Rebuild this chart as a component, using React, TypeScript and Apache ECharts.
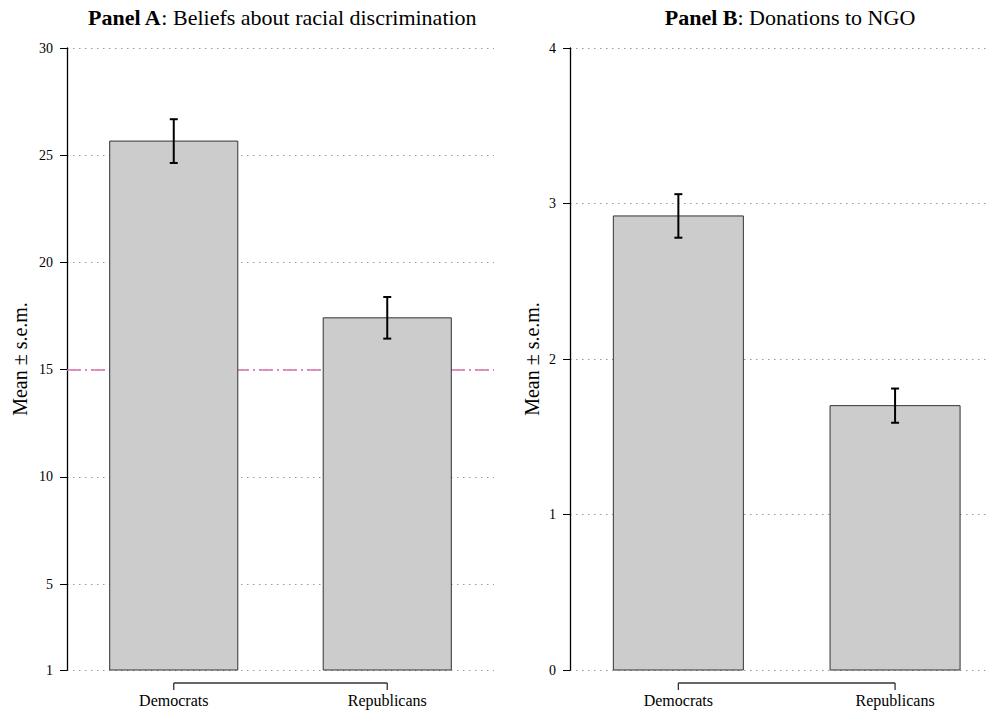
import React, { useEffect, useRef } from 'react';
import * as echarts from 'echarts';

const categories = ['Democrats', 'Republicans'];
const beliefsMean = [25.66, 17.42];
const beliefsSem = [1.02, 0.97];
const donationsMean = [2.92, 1.7];
const donationsSem = [0.14, 0.11];
const beliefsTicks = [1, 5, 10, 15, 20, 25, 30];
const donationsTicks = [0, 1, 2, 3, 4];
const beliefsReference = 15;
const panelBold = ['Panel A', 'Panel B'];
const panelRest = [': Beliefs about racial discrimination', ': Donations to NGO'];
const yAxisName = 'Mean \u00b1 s.e.m.';

const FONT = '"Liberation Serif", "Times New Roman", serif';

function barRender(yMin: number) {
  return (params: any, api: any) => {
    const i = api.value(0);
    const m = api.value(1);
    const s = api.value(2);
    const base = api.coord([i, yMin]);
    const top = api.coord([i, m]);
    const bw = api.size([0.6, 0])[0];
    const hi = api.coord([i, m + s]);
    const lo = api.coord([i, m - s]);
    const cap = 4;
    return {
      type: 'group',
      children: [
        {
          type: 'rect',
          shape: { x: base[0] - bw / 2, y: top[1], width: bw, height: base[1] - top[1] },
          style: { fill: '#cccccc', stroke: '#333333', lineWidth: 1 },
        },
        {
          type: 'line',
          shape: { x1: hi[0], y1: hi[1], x2: lo[0], y2: lo[1] },
          style: { stroke: '#000', lineWidth: 2 },
        },
        {
          type: 'line',
          shape: { x1: hi[0] - cap, y1: hi[1], x2: hi[0] + cap, y2: hi[1] },
          style: { stroke: '#000', lineWidth: 2 },
        },
        {
          type: 'line',
          shape: { x1: lo[0] - cap, y1: lo[1], x2: lo[0] + cap, y2: lo[1] },
          style: { stroke: '#000', lineWidth: 2 },
        },
      ],
    };
  };
}

function bracketRender(yMin: number) {
  return (params: any, api: any) => {
    const i = api.value(0);
    const p = api.coord([i, yMin]);
    const y = p[1] + 13;
    const children: any[] = [
      {
        type: 'line',
        shape: { x1: p[0], y1: y, x2: p[0], y2: y + 7 },
        style: { stroke: '#333', lineWidth: 1.3 },
      },
    ];
    if (i < categories.length - 1) {
      const q = api.coord([i + 1, yMin]);
      children.push({
        type: 'line',
        shape: { x1: p[0], y1: y, x2: q[0], y2: y },
        style: { stroke: '#333', lineWidth: 1.3 },
      });
    }
    return { type: 'group', children };
  };
}

function makeYAxis(gridIndex: number, ticks: number[], nameGap: number) {
  return {
    type: 'value',
    gridIndex,
    min: ticks[0],
    max: ticks[ticks.length - 1],
    name: yAxisName,
    nameLocation: 'middle',
    nameGap,
    nameTextStyle: { fontFamily: FONT, fontSize: 20, color: '#000' },
    axisLine: { show: true, onZero: false, lineStyle: { color: '#000', width: 1.3 } },
    axisTick: { show: true, length: 7, customValues: ticks, lineStyle: { color: '#000', width: 1 } },
    axisLabel: {
      show: true,
      customValues: ticks,
      margin: 14,
      fontFamily: FONT,
      fontSize: 14,
      color: '#000',
    },
    splitLine: {
      show: true,
      lineStyle: { color: '#999', width: 1, type: [1.5, 4.5] },
    },
  };
}

function makeXAxis(gridIndex: number, max: number) {
  return {
    type: 'value',
    gridIndex,
    min: -0.5,
    max,
    axisLine: { show: false, onZero: false },
    axisTick: { show: false },
    splitLine: { show: false },
    axisLabel: {
      show: true,
      customValues: categories.map((_, i) => i),
      formatter: (v: number) => categories[Math.round(v)] ?? '',
      margin: 22,
      fontFamily: FONT,
      fontSize: 16,
      color: '#000',
    },
  };
}

export default function App() {
  const ref = useRef<HTMLDivElement>(null);
  useEffect(() => {
    document.body.style.margin = '0';
    if (!ref.current) return;
    const chart = echarts.init(ref.current, null, { renderer: 'svg' });
    const beliefsData = categories.map((_, i) => [i, beliefsMean[i], beliefsSem[i]]);
    const donationsData = categories.map((_, i) => [i, donationsMean[i], donationsSem[i]]);
    const catData = categories.map((_, i) => [i]);
    const titleCenters = [282, 790];
    chart.setOption({
      animation: false,
      backgroundColor: '#ffffff',
      graphic: panelBold.map((b, k) => ({
        type: 'text',
        x: titleCenters[k],
        y: 6,
        style: {
          text: `{b|${b}}{n|${panelRest[k]}}`,
          align: 'center',
          verticalAlign: 'top',
          fill: '#000',
          rich: {
            b: { fontFamily: FONT, fontSize: 22, fontWeight: 'bold', fill: '#000' },
            n: { fontFamily: FONT, fontSize: 22, fontWeight: 'normal', fill: '#000' },
          },
        },
      })),
      grid: [
        { left: 67, top: 48, width: 427, height: 622 },
        { left: 570, top: 48, width: 420, height: 622 },
      ],
      xAxis: [makeXAxis(0, 1.5), makeXAxis(1, 1.438)],
      yAxis: [makeYAxis(0, beliefsTicks, 37), makeYAxis(1, donationsTicks, 28)],
      series: [
        {
          type: 'line',
          xAxisIndex: 0,
          yAxisIndex: 0,
          data: [],
          z: 1,
          markLine: {
            silent: true,
            symbol: 'none',
            label: { show: false },
            lineStyle: { color: '#D670A8', width: 1.5, type: [14, 4, 2, 4] },
            data: [{ yAxis: beliefsReference }],
          },
        },
        {
          type: 'custom',
          xAxisIndex: 0,
          yAxisIndex: 0,
          z: 5,
          renderItem: barRender(beliefsTicks[0]),
          data: beliefsData,
        },
        {
          type: 'custom',
          xAxisIndex: 1,
          yAxisIndex: 1,
          z: 5,
          renderItem: barRender(donationsTicks[0]),
          data: donationsData,
        },
        {
          type: 'custom',
          xAxisIndex: 0,
          yAxisIndex: 0,
          clip: false,
          renderItem: bracketRender(beliefsTicks[0]),
          data: catData,
        },
        {
          type: 'custom',
          xAxisIndex: 1,
          yAxisIndex: 1,
          clip: false,
          renderItem: bracketRender(donationsTicks[0]),
          data: catData,
        },
      ],
    });
    return () => chart.dispose();
  }, []);
  return <div ref={ref} style={{ width: 993, height: 713 }} />;
}
